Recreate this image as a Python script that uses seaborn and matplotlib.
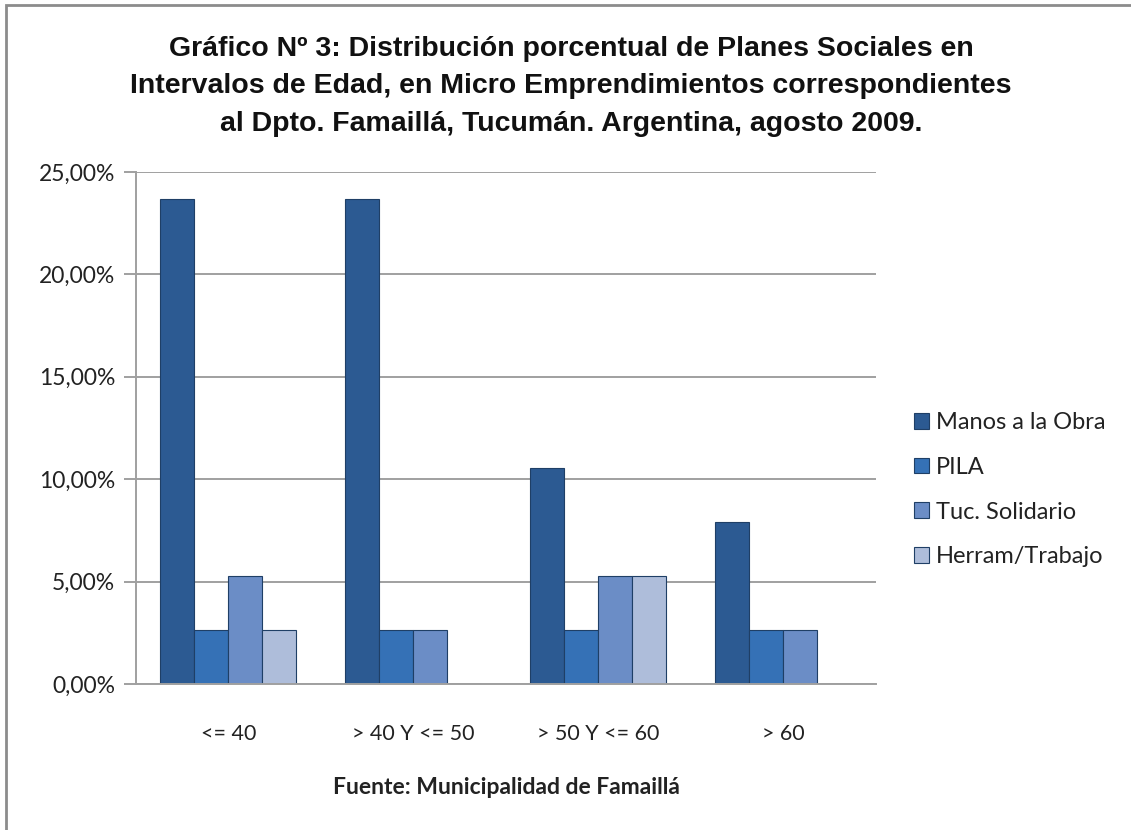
"""
Grafico N 3: distribucion porcentual de planes sociales por intervalo de edad
"""

import pandas as pd
import seaborn as sns
import matplotlib.pyplot as plt
from matplotlib.patches import Rectangle
from matplotlib.ticker import FuncFormatter

# Data
intervals = ["<= 40", "> 40 Y <= 50", "> 50 Y <= 60", "> 60"]
programs = ["Manos a la Obra", "PILA", "Tuc. Solidario", "Herram/Trabajo"]
manos = [0.2368, 0.2368, 0.1053, 0.0789]
pila = [0.0263, 0.0263, 0.0263, 0.0263]
tuc = [0.0526, 0.0263, 0.0526, 0.0263]
herram = [0.0263, 0.0, 0.0526, 0.0]

colors = ["#2C5A92", "#3571B6", "#6B8DC6", "#AEBDDA"]

title = ("Gráfico Nº 3: Distribución porcentual de Planes Sociales en\n"
         "Intervalos de Edad, en Micro Emprendimientos correspondientes\n"
         "al Dpto. Famaillá, Tucumán. Argentina, agosto 2009.")


def main():
    rows = []
    for name, vals in zip(programs, [manos, pila, tuc, herram]):
        for cat, v in zip(intervals, vals):
            rows.append({"Intervalo": cat, "Plan": name, "Valor": v})
    df = pd.DataFrame(rows)

    sns.set_style("white")
    plt.rcParams["font.family"] = ["Lato", "DejaVu Sans"]

    fig = plt.figure(figsize=(11.31, 8.3), dpi=100)
    ax = fig.add_axes([0.1202, 0.1759, 0.6543, 0.6169])

    sns.barplot(
        data=df, x="Intervalo", y="Valor", hue="Plan",
        order=intervals, hue_order=programs, palette=colors,
        width=0.735, edgecolor="#1F3F66", linewidth=0.8,
        saturation=1, ax=ax,
    )

    ax.set_ylim(0, 0.25)
    ax.set_yticks([0, 0.05, 0.10, 0.15, 0.20, 0.25])
    ax.yaxis.set_major_formatter(
        FuncFormatter(lambda v, _: f"{v * 100:.2f}%".replace(".", ","))
    )
    ax.yaxis.grid(True, color="#A0A0A0", linewidth=1.4)
    ax.set_axisbelow(True)
    for side in ["top", "right"]:
        ax.spines[side].set_visible(False)
    for side in ["left", "bottom"]:
        ax.spines[side].set_color("#A0A0A0")
        ax.spines[side].set_linewidth(1.4)
    ax.tick_params(axis="y", which="major", left=True, length=9,
                   color="#A0A0A0", width=1.4, labelsize=16.5, pad=6,
                   labelcolor="#222222")
    ax.tick_params(axis="x", bottom=False, labelsize=15.5, pad=25,
                   labelcolor="#222222")

    ax.set_ylabel("")
    ax.set_xlabel("Fuente: Municipalidad de Famaillá", fontsize=16.5,
                  fontweight="bold", labelpad=24, color="#222222")

    handles, labels = ax.get_legend_handles_labels()
    ax.legend(handles, labels, loc="center left",
              bbox_to_anchor=(0.789, 0.41), bbox_transform=fig.transFigure,
              frameon=False, fontsize=17, labelspacing=1.0,
              handlelength=0.65, handleheight=0.65, handletextpad=0.3,
              labelcolor="#222222")

    fig.text(0.505, 0.957, title, ha="center", va="top",
             fontsize=20.5, fontweight="bold", family="Liberation Sans",
             linespacing=1.58, color="#111111")

    # chart frame (cropped at right and bottom)
    fig.patches.append(Rectangle((6 / 1131, -0.1), 1.2, 1.1 - 5 / 830,
                                 transform=fig.transFigure, fill=False,
                                 edgecolor="#8C8C8C", linewidth=2))

    fig.savefig("out.png", dpi=100)


if __name__ == "__main__":
    main()
